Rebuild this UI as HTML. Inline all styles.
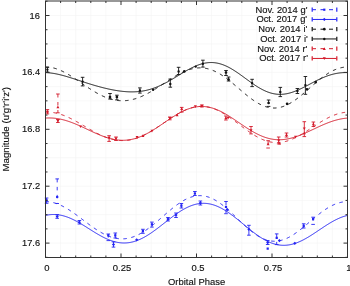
<!DOCTYPE html>
<html><head><meta charset="utf-8"><style>
html,body{margin:0;padding:0;background:#fff;}
body{width:350px;height:286px;position:relative;overflow:hidden;font-family:"Liberation Sans",sans-serif;color:#111;}
#tx{position:absolute;left:0;top:0;width:350px;height:286px;will-change:transform;}
#tx div{position:absolute;font-size:10px;line-height:12px;white-space:nowrap;-webkit-text-stroke:0.15px #111;}
#tx .yl{right:309.8px;font-size:9.8px;transform:scaleX(0.95);transform-origin:100% 50%;}
#tx .xl{top:262px;width:40px;text-align:center;font-size:9.9px;transform:scaleX(0.955);}
#tx .lg{right:42.5px;font-size:9.8px;word-spacing:0.3px;transform:scaleX(0.955);transform-origin:100% 50%;}
#tx .xt{top:276px;left:0;width:393.2px;text-align:center;font-size:9.9px;transform:scaleX(0.955);}
#tx .yt{left:0;top:0;width:120px;height:12px;text-align:center;font-size:9.7px;transform-origin:0 0;transform:translate(0px,189.2px) rotate(-90deg);}
</style></head><body>
<svg width="350" height="286" viewBox="0 0 350 286" style="position:absolute;left:0;top:0">
<path d="M60.60,1.0 V257.5 M75.70,1.0 V257.5 M90.80,1.0 V257.5 M105.90,1.0 V257.5 M121.00,1.0 V257.5 M136.10,1.0 V257.5 M151.20,1.0 V257.5 M166.30,1.0 V257.5 M181.40,1.0 V257.5 M196.50,1.0 V257.5 M211.60,1.0 V257.5 M226.70,1.0 V257.5 M241.80,1.0 V257.5 M256.90,1.0 V257.5 M272.00,1.0 V257.5 M287.10,1.0 V257.5 M302.20,1.0 V257.5 M317.30,1.0 V257.5 M332.40,1.0 V257.5 M45.5,15.50 H347.5 M45.5,29.73 H347.5 M45.5,43.95 H347.5 M45.5,58.18 H347.5 M45.5,72.40 H347.5 M45.5,86.62 H347.5 M45.5,100.85 H347.5 M45.5,115.07 H347.5 M45.5,129.30 H347.5 M45.5,143.52 H347.5 M45.5,157.75 H347.5 M45.5,171.98 H347.5 M45.5,186.20 H347.5 M45.5,200.43 H347.5 M45.5,214.65 H347.5 M45.5,228.88 H347.5 M45.5,243.10 H347.5" stroke="#f3f3f3" stroke-width="0.6" fill="none"/>
<path d="M45.5,201.62 L46.5,201.64 L47.5,201.69 L48.5,201.77 L49.5,201.89 L50.5,202.04 L51.5,202.22 L52.5,202.43 L53.5,202.67 L54.5,202.94 L55.5,203.24 L56.5,203.58 L57.5,203.94 L58.5,204.32 L59.5,204.74 L60.5,205.18 L61.5,205.65 L62.5,206.14 L63.5,206.65 L64.5,207.19 L65.5,207.75 L66.5,208.33 L67.5,208.93 L68.5,209.55 L69.5,210.18 L70.5,210.83 L71.5,211.50 L72.5,212.18 L73.5,212.88 L74.5,213.58 L75.5,214.30 L76.5,215.03 L77.5,215.76 L78.5,216.50 L79.5,217.25 L80.5,218.00 L81.5,218.75 L82.5,219.51 L83.5,220.27 L84.5,221.03 L85.5,221.78 L86.5,222.54 L87.5,223.28 L88.5,224.03 L89.5,224.76 L90.5,225.49 L91.5,226.21 L92.5,226.92 L93.5,227.62 L94.5,228.31 L95.5,228.99 L96.5,229.64 L97.5,230.29 L98.5,230.92 L99.5,231.53 L100.5,232.12 L101.5,232.69 L102.5,233.24 L103.5,233.77 L104.5,234.28 L105.5,234.76 L106.5,235.23 L107.5,235.66 L108.5,236.07 L109.5,236.46 L110.5,236.82 L111.5,237.15 L112.5,237.45 L113.5,237.73 L114.5,237.97 L115.5,238.19 L116.5,238.38 L117.5,238.53 L118.5,238.66 L119.5,238.75 L120.5,238.82 L121.5,238.85 L122.5,238.85 L123.5,238.82 L124.5,238.75 L125.5,238.66 L126.5,238.53 L127.5,238.37 L128.5,238.18 L129.5,237.96 L130.5,237.71 L131.5,237.42 L132.5,237.11 L133.5,236.76 L134.5,236.39 L135.5,235.99 L136.5,235.55 L137.5,235.09 L138.5,234.60 L139.5,234.08 L140.5,233.54 L141.5,232.97 L142.5,232.38 L143.5,231.76 L144.5,231.12 L145.5,230.45 L146.5,229.77 L147.5,229.06 L148.5,228.33 L149.5,227.59 L150.5,226.83 L151.5,226.05 L152.5,225.26 L153.5,224.45 L154.5,223.63 L155.5,222.80 L156.5,221.96 L157.5,221.11 L158.5,220.25 L159.5,219.39 L160.5,218.52 L161.5,217.65 L162.5,216.78 L163.5,215.91 L164.5,215.03 L165.5,214.16 L166.5,213.30 L167.5,212.44 L168.5,211.58 L169.5,210.74 L170.5,209.90 L171.5,209.07 L172.5,208.26 L173.5,207.46 L174.5,206.68 L175.5,205.91 L176.5,205.17 L177.5,204.44 L178.5,203.73 L179.5,203.04 L180.5,202.38 L181.5,201.74 L182.5,201.13 L183.5,200.55 L184.5,199.99 L185.5,199.46 L186.5,198.97 L187.5,198.50 L188.5,198.07 L189.5,197.67 L190.5,197.30 L191.5,196.97 L192.5,196.67 L193.5,196.41 L194.5,196.19 L195.5,196.00 L196.5,195.85 L197.5,195.74 L198.5,195.67 L199.5,195.64 L200.5,195.64 L201.5,195.69 L202.5,195.77 L203.5,195.89 L204.5,196.05 L205.5,196.25 L206.5,196.49 L207.5,196.77 L208.5,197.08 L209.5,197.44 L210.5,197.83 L211.5,198.25 L212.5,198.71 L213.5,199.21 L214.5,199.74 L215.5,200.30 L216.5,200.90 L217.5,201.53 L218.5,202.18 L219.5,202.87 L220.5,203.59 L221.5,204.33 L222.5,205.09 L223.5,205.89 L224.5,206.70 L225.5,207.54 L226.5,208.39 L227.5,209.27 L228.5,210.16 L229.5,211.06 L230.5,211.98 L231.5,212.91 L232.5,213.85 L233.5,214.80 L234.5,215.76 L235.5,216.72 L236.5,217.69 L237.5,218.65 L238.5,219.62 L239.5,220.59 L240.5,221.55 L241.5,222.50 L242.5,223.45 L243.5,224.39 L244.5,225.32 L245.5,226.23 L246.5,227.14 L247.5,228.02 L248.5,228.89 L249.5,229.74 L250.5,230.57 L251.5,231.38 L252.5,232.16 L253.5,232.92 L254.5,233.65 L255.5,234.36 L256.5,235.04 L257.5,235.68 L258.5,236.30 L259.5,236.88 L260.5,237.43 L261.5,237.95 L262.5,238.43 L263.5,238.88 L264.5,239.28 L265.5,239.66 L266.5,239.99 L267.5,240.28 L268.5,240.54 L269.5,240.76 L270.5,240.93 L271.5,241.07 L272.5,241.17 L273.5,241.23 L274.5,241.25 L275.5,241.22 L276.5,241.16 L277.5,241.06 L278.5,240.92 L279.5,240.74 L280.5,240.53 L281.5,240.27 L282.5,239.98 L283.5,239.65 L284.5,239.29 L285.5,238.89 L286.5,238.46 L287.5,238.00 L288.5,237.50 L289.5,236.98 L290.5,236.42 L291.5,235.83 L292.5,235.22 L293.5,234.58 L294.5,233.92 L295.5,233.23 L296.5,232.53 L297.5,231.80 L298.5,231.05 L299.5,230.28 L300.5,229.50 L301.5,228.71 L302.5,227.90 L303.5,227.08 L304.5,226.25 L305.5,225.41 L306.5,224.57 L307.5,223.72 L308.5,222.87 L309.5,222.01 L310.5,221.16 L311.5,220.31 L312.5,219.46 L313.5,218.61 L314.5,217.77 L315.5,216.94 L316.5,216.12 L317.5,215.31 L318.5,214.51 L319.5,213.73 L320.5,212.96 L321.5,212.20 L322.5,211.47 L323.5,210.75 L324.5,210.05 L325.5,209.38 L326.5,208.72 L327.5,208.09 L328.5,207.49 L329.5,206.91 L330.5,206.35 L331.5,205.83 L332.5,205.33 L333.5,204.86 L334.5,204.42 L335.5,204.01 L336.5,203.63 L337.5,203.29 L338.5,202.97 L339.5,202.69 L340.5,202.44 L341.5,202.22 L342.5,202.04 L343.5,201.89 L344.5,201.77 L345.5,201.69 L346.5,201.64 L347.5,201.62" stroke="#2424f4" stroke-width="1.0" fill="none" stroke-dasharray="3.5,4.5"/>
<path d="M45.5,215.42 L46.5,215.21 L47.5,215.02 L48.5,214.87 L49.5,214.73 L50.5,214.63 L51.5,214.56 L52.5,214.51 L53.5,214.50 L54.5,214.51 L55.5,214.55 L56.5,214.62 L57.5,214.71 L58.5,214.84 L59.5,214.99 L60.5,215.17 L61.5,215.37 L62.5,215.60 L63.5,215.86 L64.5,216.15 L65.5,216.45 L66.5,216.79 L67.5,217.14 L68.5,217.52 L69.5,217.92 L70.5,218.34 L71.5,218.79 L72.5,219.25 L73.5,219.73 L74.5,220.23 L75.5,220.74 L76.5,221.27 L77.5,221.82 L78.5,222.38 L79.5,222.95 L80.5,223.53 L81.5,224.12 L82.5,224.72 L83.5,225.33 L84.5,225.95 L85.5,226.57 L86.5,227.20 L87.5,227.83 L88.5,228.46 L89.5,229.09 L90.5,229.72 L91.5,230.35 L92.5,230.98 L93.5,231.60 L94.5,232.22 L95.5,232.83 L96.5,233.43 L97.5,234.02 L98.5,234.60 L99.5,235.17 L100.5,235.73 L101.5,236.28 L102.5,236.81 L103.5,237.32 L104.5,237.82 L105.5,238.30 L106.5,238.76 L107.5,239.20 L108.5,239.62 L109.5,240.02 L110.5,240.40 L111.5,240.75 L112.5,241.08 L113.5,241.39 L114.5,241.67 L115.5,241.93 L116.5,242.15 L117.5,242.36 L118.5,242.53 L119.5,242.68 L120.5,242.79 L121.5,242.88 L122.5,242.95 L123.5,242.98 L124.5,242.98 L125.5,242.95 L126.5,242.90 L127.5,242.81 L128.5,242.70 L129.5,242.55 L130.5,242.38 L131.5,242.17 L132.5,241.94 L133.5,241.68 L134.5,241.39 L135.5,241.08 L136.5,240.73 L137.5,240.36 L138.5,239.96 L139.5,239.54 L140.5,239.09 L141.5,238.62 L142.5,238.12 L143.5,237.60 L144.5,237.05 L145.5,236.49 L146.5,235.90 L147.5,235.29 L148.5,234.66 L149.5,234.02 L150.5,233.36 L151.5,232.68 L152.5,231.99 L153.5,231.28 L154.5,230.56 L155.5,229.83 L156.5,229.09 L157.5,228.33 L158.5,227.57 L159.5,226.80 L160.5,226.03 L161.5,225.25 L162.5,224.47 L163.5,223.68 L164.5,222.90 L165.5,222.11 L166.5,221.33 L167.5,220.54 L168.5,219.77 L169.5,218.99 L170.5,218.23 L171.5,217.47 L172.5,216.71 L173.5,215.97 L174.5,215.24 L175.5,214.53 L176.5,213.82 L177.5,213.13 L178.5,212.46 L179.5,211.80 L180.5,211.16 L181.5,210.54 L182.5,209.94 L183.5,209.36 L184.5,208.80 L185.5,208.27 L186.5,207.75 L187.5,207.27 L188.5,206.81 L189.5,206.37 L190.5,205.96 L191.5,205.58 L192.5,205.22 L193.5,204.90 L194.5,204.60 L195.5,204.33 L196.5,204.10 L197.5,203.89 L198.5,203.72 L199.5,203.57 L200.5,203.46 L201.5,203.38 L202.5,203.33 L203.5,203.31 L204.5,203.33 L205.5,203.38 L206.5,203.46 L207.5,203.57 L208.5,203.71 L209.5,203.89 L210.5,204.09 L211.5,204.33 L212.5,204.60 L213.5,204.90 L214.5,205.22 L215.5,205.58 L216.5,205.97 L217.5,206.38 L218.5,206.83 L219.5,207.30 L220.5,207.79 L221.5,208.31 L222.5,208.86 L223.5,209.43 L224.5,210.03 L225.5,210.64 L226.5,211.28 L227.5,211.94 L228.5,212.61 L229.5,213.31 L230.5,214.02 L231.5,214.75 L232.5,215.49 L233.5,216.25 L234.5,217.02 L235.5,217.80 L236.5,218.59 L237.5,219.39 L238.5,220.20 L239.5,221.01 L240.5,221.83 L241.5,222.65 L242.5,223.48 L243.5,224.30 L244.5,225.13 L245.5,225.95 L246.5,226.78 L247.5,227.59 L248.5,228.41 L249.5,229.21 L250.5,230.01 L251.5,230.80 L252.5,231.58 L253.5,232.35 L254.5,233.11 L255.5,233.85 L256.5,234.58 L257.5,235.29 L258.5,235.98 L259.5,236.66 L260.5,237.31 L261.5,237.95 L262.5,238.56 L263.5,239.16 L264.5,239.73 L265.5,240.27 L266.5,240.79 L267.5,241.29 L268.5,241.76 L269.5,242.20 L270.5,242.62 L271.5,243.00 L272.5,243.36 L273.5,243.69 L274.5,243.99 L275.5,244.26 L276.5,244.50 L277.5,244.71 L278.5,244.89 L279.5,245.03 L280.5,245.15 L281.5,245.24 L282.5,245.29 L283.5,245.31 L284.5,245.30 L285.5,245.26 L286.5,245.19 L287.5,245.09 L288.5,244.96 L289.5,244.80 L290.5,244.61 L291.5,244.39 L292.5,244.14 L293.5,243.87 L294.5,243.57 L295.5,243.24 L296.5,242.88 L297.5,242.50 L298.5,242.10 L299.5,241.67 L300.5,241.22 L301.5,240.75 L302.5,240.26 L303.5,239.75 L304.5,239.21 L305.5,238.67 L306.5,238.10 L307.5,237.52 L308.5,236.93 L309.5,236.32 L310.5,235.70 L311.5,235.07 L312.5,234.43 L313.5,233.78 L314.5,233.12 L315.5,232.46 L316.5,231.79 L317.5,231.12 L318.5,230.45 L319.5,229.78 L320.5,229.11 L321.5,228.44 L322.5,227.77 L323.5,227.11 L324.5,226.45 L325.5,225.80 L326.5,225.16 L327.5,224.53 L328.5,223.91 L329.5,223.29 L330.5,222.70 L331.5,222.11 L332.5,221.54 L333.5,220.99 L334.5,220.45 L335.5,219.93 L336.5,219.44 L337.5,218.96 L338.5,218.50 L339.5,218.06 L340.5,217.64 L341.5,217.25 L342.5,216.88 L343.5,216.54 L344.5,216.22 L345.5,215.93 L346.5,215.66 L347.5,215.42" stroke="#2424f4" stroke-width="1.0" fill="none"/>
<path d="M45.5,112.16 L46.5,112.12 L47.5,112.11 L48.5,112.13 L49.5,112.17 L50.5,112.24 L51.5,112.33 L52.5,112.45 L53.5,112.60 L54.5,112.77 L55.5,112.96 L56.5,113.18 L57.5,113.42 L58.5,113.68 L59.5,113.97 L60.5,114.28 L61.5,114.61 L62.5,114.96 L63.5,115.33 L64.5,115.71 L65.5,116.12 L66.5,116.55 L67.5,116.99 L68.5,117.45 L69.5,117.92 L70.5,118.41 L71.5,118.91 L72.5,119.42 L73.5,119.94 L74.5,120.48 L75.5,121.02 L76.5,121.58 L77.5,122.14 L78.5,122.71 L79.5,123.28 L80.5,123.86 L81.5,124.44 L82.5,125.03 L83.5,125.62 L84.5,126.21 L85.5,126.80 L86.5,127.38 L87.5,127.97 L88.5,128.55 L89.5,129.13 L90.5,129.70 L91.5,130.27 L92.5,130.83 L93.5,131.38 L94.5,131.93 L95.5,132.46 L96.5,132.99 L97.5,133.50 L98.5,134.00 L99.5,134.49 L100.5,134.96 L101.5,135.42 L102.5,135.86 L103.5,136.29 L104.5,136.70 L105.5,137.10 L106.5,137.47 L107.5,137.83 L108.5,138.16 L109.5,138.48 L110.5,138.78 L111.5,139.05 L112.5,139.30 L113.5,139.53 L114.5,139.74 L115.5,139.93 L116.5,140.09 L117.5,140.23 L118.5,140.35 L119.5,140.44 L120.5,140.50 L121.5,140.55 L122.5,140.56 L123.5,140.56 L124.5,140.53 L125.5,140.47 L126.5,140.39 L127.5,140.28 L128.5,140.15 L129.5,139.99 L130.5,139.81 L131.5,139.61 L132.5,139.38 L133.5,139.13 L134.5,138.85 L135.5,138.55 L136.5,138.23 L137.5,137.88 L138.5,137.52 L139.5,137.13 L140.5,136.72 L141.5,136.29 L142.5,135.84 L143.5,135.37 L144.5,134.88 L145.5,134.37 L146.5,133.85 L147.5,133.31 L148.5,132.75 L149.5,132.18 L150.5,131.60 L151.5,131.00 L152.5,130.39 L153.5,129.77 L154.5,129.13 L155.5,128.49 L156.5,127.84 L157.5,127.18 L158.5,126.52 L159.5,125.84 L160.5,125.17 L161.5,124.49 L162.5,123.81 L163.5,123.13 L164.5,122.44 L165.5,121.76 L166.5,121.08 L167.5,120.40 L168.5,119.73 L169.5,119.06 L170.5,118.40 L171.5,117.74 L172.5,117.10 L173.5,116.46 L174.5,115.83 L175.5,115.22 L176.5,114.62 L177.5,114.03 L178.5,113.46 L179.5,112.90 L180.5,112.36 L181.5,111.84 L182.5,111.34 L183.5,110.86 L184.5,110.40 L185.5,109.96 L186.5,109.54 L187.5,109.14 L188.5,108.77 L189.5,108.42 L190.5,108.10 L191.5,107.81 L192.5,107.54 L193.5,107.30 L194.5,107.08 L195.5,106.90 L196.5,106.74 L197.5,106.61 L198.5,106.51 L199.5,106.44 L200.5,106.40 L201.5,106.39 L202.5,106.41 L203.5,106.46 L204.5,106.54 L205.5,106.66 L206.5,106.80 L207.5,106.97 L208.5,107.17 L209.5,107.40 L210.5,107.66 L211.5,107.94 L212.5,108.26 L213.5,108.60 L214.5,108.97 L215.5,109.37 L216.5,109.80 L217.5,110.25 L218.5,110.72 L219.5,111.22 L220.5,111.74 L221.5,112.29 L222.5,112.85 L223.5,113.44 L224.5,114.04 L225.5,114.67 L226.5,115.31 L227.5,115.97 L228.5,116.64 L229.5,117.33 L230.5,118.03 L231.5,118.74 L232.5,119.46 L233.5,120.19 L234.5,120.93 L235.5,121.68 L236.5,122.43 L237.5,123.18 L238.5,123.94 L239.5,124.70 L240.5,125.46 L241.5,126.21 L242.5,126.97 L243.5,127.72 L244.5,128.46 L245.5,129.20 L246.5,129.93 L247.5,130.65 L248.5,131.36 L249.5,132.05 L250.5,132.74 L251.5,133.41 L252.5,134.06 L253.5,134.69 L254.5,135.31 L255.5,135.91 L256.5,136.49 L257.5,137.05 L258.5,137.58 L259.5,138.10 L260.5,138.58 L261.5,139.05 L262.5,139.49 L263.5,139.90 L264.5,140.28 L265.5,140.64 L266.5,140.97 L267.5,141.27 L268.5,141.54 L269.5,141.78 L270.5,141.99 L271.5,142.17 L272.5,142.32 L273.5,142.44 L274.5,142.53 L275.5,142.58 L276.5,142.61 L277.5,142.61 L278.5,142.57 L279.5,142.50 L280.5,142.41 L281.5,142.28 L282.5,142.12 L283.5,141.94 L284.5,141.72 L285.5,141.48 L286.5,141.21 L287.5,140.91 L288.5,140.59 L289.5,140.24 L290.5,139.86 L291.5,139.46 L292.5,139.04 L293.5,138.59 L294.5,138.13 L295.5,137.64 L296.5,137.13 L297.5,136.60 L298.5,136.06 L299.5,135.50 L300.5,134.93 L301.5,134.34 L302.5,133.74 L303.5,133.12 L304.5,132.50 L305.5,131.87 L306.5,131.23 L307.5,130.58 L308.5,129.93 L309.5,129.27 L310.5,128.61 L311.5,127.95 L312.5,127.29 L313.5,126.63 L314.5,125.97 L315.5,125.31 L316.5,124.66 L317.5,124.02 L318.5,123.38 L319.5,122.75 L320.5,122.13 L321.5,121.51 L322.5,120.92 L323.5,120.33 L324.5,119.76 L325.5,119.20 L326.5,118.65 L327.5,118.13 L328.5,117.62 L329.5,117.13 L330.5,116.66 L331.5,116.20 L332.5,115.77 L333.5,115.36 L334.5,114.98 L335.5,114.61 L336.5,114.27 L337.5,113.95 L338.5,113.66 L339.5,113.39 L340.5,113.14 L341.5,112.92 L342.5,112.73 L343.5,112.56 L344.5,112.42 L345.5,112.31 L346.5,112.22 L347.5,112.16" stroke="#d41a2a" stroke-width="1.0" fill="none" stroke-dasharray="3.5,4.5"/>
<path d="M45.5,118.09 L46.5,118.03 L47.5,117.98 L48.5,117.96 L49.5,117.96 L50.5,117.97 L51.5,118.01 L52.5,118.06 L53.5,118.14 L54.5,118.23 L55.5,118.34 L56.5,118.47 L57.5,118.61 L58.5,118.78 L59.5,118.96 L60.5,119.16 L61.5,119.38 L62.5,119.62 L63.5,119.87 L64.5,120.14 L65.5,120.42 L66.5,120.72 L67.5,121.03 L68.5,121.36 L69.5,121.70 L70.5,122.05 L71.5,122.42 L72.5,122.80 L73.5,123.19 L74.5,123.59 L75.5,124.00 L76.5,124.41 L77.5,124.84 L78.5,125.28 L79.5,125.72 L80.5,126.17 L81.5,126.63 L82.5,127.09 L83.5,127.55 L84.5,128.02 L85.5,128.49 L86.5,128.96 L87.5,129.43 L88.5,129.91 L89.5,130.38 L90.5,130.85 L91.5,131.32 L92.5,131.78 L93.5,132.24 L94.5,132.70 L95.5,133.15 L96.5,133.59 L97.5,134.02 L98.5,134.45 L99.5,134.87 L100.5,135.28 L101.5,135.67 L102.5,136.06 L103.5,136.43 L104.5,136.80 L105.5,137.14 L106.5,137.47 L107.5,137.79 L108.5,138.09 L109.5,138.38 L110.5,138.64 L111.5,138.89 L112.5,139.12 L113.5,139.34 L114.5,139.53 L115.5,139.70 L116.5,139.85 L117.5,139.98 L118.5,140.09 L119.5,140.18 L120.5,140.24 L121.5,140.29 L122.5,140.30 L123.5,140.30 L124.5,140.27 L125.5,140.22 L126.5,140.15 L127.5,140.05 L128.5,139.93 L129.5,139.78 L130.5,139.61 L131.5,139.42 L132.5,139.20 L133.5,138.96 L134.5,138.70 L135.5,138.41 L136.5,138.10 L137.5,137.77 L138.5,137.41 L139.5,137.04 L140.5,136.64 L141.5,136.22 L142.5,135.78 L143.5,135.32 L144.5,134.85 L145.5,134.35 L146.5,133.84 L147.5,133.31 L148.5,132.76 L149.5,132.20 L150.5,131.62 L151.5,131.03 L152.5,130.42 L153.5,129.81 L154.5,129.18 L155.5,128.54 L156.5,127.90 L157.5,127.24 L158.5,126.58 L159.5,125.91 L160.5,125.24 L161.5,124.56 L162.5,123.88 L163.5,123.20 L164.5,122.52 L165.5,121.84 L166.5,121.16 L167.5,120.48 L168.5,119.81 L169.5,119.14 L170.5,118.48 L171.5,117.82 L172.5,117.18 L173.5,116.54 L174.5,115.92 L175.5,115.30 L176.5,114.70 L177.5,114.12 L178.5,113.55 L179.5,112.99 L180.5,112.45 L181.5,111.93 L182.5,111.43 L183.5,110.95 L184.5,110.49 L185.5,110.05 L186.5,109.63 L187.5,109.23 L188.5,108.86 L189.5,108.52 L190.5,108.20 L191.5,107.90 L192.5,107.63 L193.5,107.39 L194.5,107.17 L195.5,106.98 L196.5,106.82 L197.5,106.69 L198.5,106.58 L199.5,106.51 L200.5,106.46 L201.5,106.44 L202.5,106.45 L203.5,106.49 L204.5,106.56 L205.5,106.66 L206.5,106.78 L207.5,106.94 L208.5,107.12 L209.5,107.33 L210.5,107.57 L211.5,107.83 L212.5,108.12 L213.5,108.43 L214.5,108.78 L215.5,109.14 L216.5,109.53 L217.5,109.94 L218.5,110.38 L219.5,110.83 L220.5,111.31 L221.5,111.81 L222.5,112.33 L223.5,112.86 L224.5,113.42 L225.5,113.98 L226.5,114.57 L227.5,115.17 L228.5,115.78 L229.5,116.40 L230.5,117.04 L231.5,117.68 L232.5,118.33 L233.5,118.99 L234.5,119.66 L235.5,120.33 L236.5,121.01 L237.5,121.69 L238.5,122.37 L239.5,123.05 L240.5,123.73 L241.5,124.41 L242.5,125.09 L243.5,125.76 L244.5,126.42 L245.5,127.08 L246.5,127.74 L247.5,128.38 L248.5,129.02 L249.5,129.64 L250.5,130.25 L251.5,130.85 L252.5,131.44 L253.5,132.01 L254.5,132.57 L255.5,133.11 L256.5,133.64 L257.5,134.14 L258.5,134.63 L259.5,135.10 L260.5,135.55 L261.5,135.98 L262.5,136.38 L263.5,136.77 L264.5,137.13 L265.5,137.47 L266.5,137.79 L267.5,138.09 L268.5,138.36 L269.5,138.61 L270.5,138.83 L271.5,139.03 L272.5,139.20 L273.5,139.36 L274.5,139.48 L275.5,139.58 L276.5,139.66 L277.5,139.71 L278.5,139.74 L279.5,139.75 L280.5,139.73 L281.5,139.68 L282.5,139.62 L283.5,139.53 L284.5,139.42 L285.5,139.28 L286.5,139.13 L287.5,138.95 L288.5,138.76 L289.5,138.54 L290.5,138.30 L291.5,138.05 L292.5,137.77 L293.5,137.48 L294.5,137.18 L295.5,136.85 L296.5,136.51 L297.5,136.16 L298.5,135.79 L299.5,135.41 L300.5,135.02 L301.5,134.61 L302.5,134.20 L303.5,133.77 L304.5,133.34 L305.5,132.90 L306.5,132.45 L307.5,132.00 L308.5,131.54 L309.5,131.07 L310.5,130.60 L311.5,130.13 L312.5,129.66 L313.5,129.19 L314.5,128.72 L315.5,128.25 L316.5,127.78 L317.5,127.31 L318.5,126.85 L319.5,126.39 L320.5,125.93 L321.5,125.49 L322.5,125.04 L323.5,124.61 L324.5,124.18 L325.5,123.77 L326.5,123.36 L327.5,122.97 L328.5,122.58 L329.5,122.21 L330.5,121.85 L331.5,121.50 L332.5,121.16 L333.5,120.84 L334.5,120.54 L335.5,120.25 L336.5,119.97 L337.5,119.71 L338.5,119.47 L339.5,119.25 L340.5,119.04 L341.5,118.85 L342.5,118.67 L343.5,118.52 L344.5,118.38 L345.5,118.27 L346.5,118.17 L347.5,118.09" stroke="#d41a2a" stroke-width="1.0" fill="none"/>
<path d="M45.5,66.98 L46.5,66.99 L47.5,67.04 L48.5,67.11 L49.5,67.22 L50.5,67.36 L51.5,67.53 L52.5,67.74 L53.5,67.97 L54.5,68.23 L55.5,68.52 L56.5,68.84 L57.5,69.19 L58.5,69.57 L59.5,69.97 L60.5,70.39 L61.5,70.84 L62.5,71.31 L63.5,71.80 L64.5,72.32 L65.5,72.85 L66.5,73.40 L67.5,73.97 L68.5,74.56 L69.5,75.16 L70.5,75.77 L71.5,76.40 L72.5,77.04 L73.5,77.69 L74.5,78.35 L75.5,79.01 L76.5,79.69 L77.5,80.37 L78.5,81.05 L79.5,81.74 L80.5,82.43 L81.5,83.12 L82.5,83.81 L83.5,84.50 L84.5,85.18 L85.5,85.86 L86.5,86.54 L87.5,87.21 L88.5,87.88 L89.5,88.54 L90.5,89.18 L91.5,89.82 L92.5,90.45 L93.5,91.07 L94.5,91.67 L95.5,92.26 L96.5,92.83 L97.5,93.39 L98.5,93.94 L99.5,94.47 L100.5,94.98 L101.5,95.47 L102.5,95.94 L103.5,96.40 L104.5,96.83 L105.5,97.24 L106.5,97.64 L107.5,98.01 L108.5,98.36 L109.5,98.68 L110.5,98.99 L111.5,99.27 L112.5,99.52 L113.5,99.76 L114.5,99.97 L115.5,100.15 L116.5,100.31 L117.5,100.45 L118.5,100.56 L119.5,100.64 L120.5,100.71 L121.5,100.74 L122.5,100.75 L123.5,100.74 L124.5,100.70 L125.5,100.64 L126.5,100.55 L127.5,100.44 L128.5,100.30 L129.5,100.14 L130.5,99.95 L131.5,99.74 L132.5,99.51 L133.5,99.26 L134.5,98.98 L135.5,98.68 L136.5,98.36 L137.5,98.02 L138.5,97.65 L139.5,97.27 L140.5,96.86 L141.5,96.44 L142.5,96.00 L143.5,95.54 L144.5,95.06 L145.5,94.56 L146.5,94.05 L147.5,93.53 L148.5,92.98 L149.5,92.43 L150.5,91.86 L151.5,91.28 L152.5,90.69 L153.5,90.08 L154.5,89.47 L155.5,88.85 L156.5,88.22 L157.5,87.58 L158.5,86.94 L159.5,86.29 L160.5,85.64 L161.5,84.98 L162.5,84.32 L163.5,83.66 L164.5,83.00 L165.5,82.35 L166.5,81.69 L167.5,81.03 L168.5,80.38 L169.5,79.74 L170.5,79.10 L171.5,78.47 L172.5,77.85 L173.5,77.23 L174.5,76.63 L175.5,76.04 L176.5,75.46 L177.5,74.90 L178.5,74.35 L179.5,73.81 L180.5,73.29 L181.5,72.79 L182.5,72.31 L183.5,71.85 L184.5,71.41 L185.5,70.99 L186.5,70.60 L187.5,70.22 L188.5,69.87 L189.5,69.55 L190.5,69.25 L191.5,68.98 L192.5,68.74 L193.5,68.52 L194.5,68.34 L195.5,68.18 L196.5,68.05 L197.5,67.95 L198.5,67.89 L199.5,67.85 L200.5,67.84 L201.5,67.87 L202.5,67.93 L203.5,68.02 L204.5,68.14 L205.5,68.30 L206.5,68.48 L207.5,68.70 L208.5,68.95 L209.5,69.24 L210.5,69.55 L211.5,69.90 L212.5,70.27 L213.5,70.68 L214.5,71.12 L215.5,71.58 L216.5,72.08 L217.5,72.60 L218.5,73.15 L219.5,73.73 L220.5,74.33 L221.5,74.96 L222.5,75.61 L223.5,76.28 L224.5,76.98 L225.5,77.69 L226.5,78.43 L227.5,79.18 L228.5,79.95 L229.5,80.74 L230.5,81.54 L231.5,82.35 L232.5,83.17 L233.5,84.01 L234.5,84.85 L235.5,85.70 L236.5,86.55 L237.5,87.41 L238.5,88.27 L239.5,89.13 L240.5,89.99 L241.5,90.85 L242.5,91.70 L243.5,92.55 L244.5,93.39 L245.5,94.22 L246.5,95.04 L247.5,95.84 L248.5,96.64 L249.5,97.41 L250.5,98.17 L251.5,98.92 L252.5,99.64 L253.5,100.34 L254.5,101.02 L255.5,101.67 L256.5,102.30 L257.5,102.90 L258.5,103.47 L259.5,104.01 L260.5,104.52 L261.5,105.01 L262.5,105.45 L263.5,105.87 L264.5,106.25 L265.5,106.60 L266.5,106.91 L267.5,107.18 L268.5,107.42 L269.5,107.62 L270.5,107.78 L271.5,107.90 L272.5,107.99 L273.5,108.03 L274.5,108.04 L275.5,108.01 L276.5,107.93 L277.5,107.82 L278.5,107.67 L279.5,107.49 L280.5,107.26 L281.5,107.00 L282.5,106.70 L283.5,106.36 L284.5,105.99 L285.5,105.58 L286.5,105.14 L287.5,104.66 L288.5,104.15 L289.5,103.61 L290.5,103.04 L291.5,102.44 L292.5,101.81 L293.5,101.16 L294.5,100.48 L295.5,99.77 L296.5,99.05 L297.5,98.30 L298.5,97.53 L299.5,96.74 L300.5,95.93 L301.5,95.11 L302.5,94.28 L303.5,93.43 L304.5,92.58 L305.5,91.71 L306.5,90.84 L307.5,89.96 L308.5,89.08 L309.5,88.19 L310.5,87.31 L311.5,86.43 L312.5,85.55 L313.5,84.67 L314.5,83.80 L315.5,82.94 L316.5,82.09 L317.5,81.24 L318.5,80.41 L319.5,79.60 L320.5,78.80 L321.5,78.02 L322.5,77.25 L323.5,76.51 L324.5,75.78 L325.5,75.08 L326.5,74.40 L327.5,73.75 L328.5,73.12 L329.5,72.52 L330.5,71.94 L331.5,71.39 L332.5,70.88 L333.5,70.39 L334.5,69.93 L335.5,69.51 L336.5,69.11 L337.5,68.75 L338.5,68.42 L339.5,68.13 L340.5,67.87 L341.5,67.64 L342.5,67.44 L343.5,67.28 L344.5,67.16 L345.5,67.07 L346.5,67.01 L347.5,66.98" stroke="#111111" stroke-width="1.0" fill="none" stroke-dasharray="3.5,4.5"/>
<path d="M45.5,72.60 L46.5,72.64 L47.5,72.70 L48.5,72.78 L49.5,72.87 L50.5,72.98 L51.5,73.11 L52.5,73.25 L53.5,73.40 L54.5,73.57 L55.5,73.76 L56.5,73.95 L57.5,74.16 L58.5,74.38 L59.5,74.61 L60.5,74.86 L61.5,75.11 L62.5,75.37 L63.5,75.64 L64.5,75.92 L65.5,76.20 L66.5,76.49 L67.5,76.79 L68.5,77.09 L69.5,77.40 L70.5,77.71 L71.5,78.03 L72.5,78.35 L73.5,78.67 L74.5,79.00 L75.5,79.32 L76.5,79.65 L77.5,79.98 L78.5,80.31 L79.5,80.64 L80.5,80.97 L81.5,81.30 L82.5,81.63 L83.5,81.95 L84.5,82.28 L85.5,82.60 L86.5,82.92 L87.5,83.24 L88.5,83.55 L89.5,83.87 L90.5,84.17 L91.5,84.48 L92.5,84.78 L93.5,85.08 L94.5,85.38 L95.5,85.67 L96.5,85.95 L97.5,86.23 L98.5,86.51 L99.5,86.78 L100.5,87.05 L101.5,87.31 L102.5,87.57 L103.5,87.82 L104.5,88.07 L105.5,88.31 L106.5,88.54 L107.5,88.77 L108.5,89.00 L109.5,89.21 L110.5,89.42 L111.5,89.63 L112.5,89.82 L113.5,90.01 L114.5,90.19 L115.5,90.37 L116.5,90.53 L117.5,90.69 L118.5,90.84 L119.5,90.98 L120.5,91.11 L121.5,91.23 L122.5,91.35 L123.5,91.45 L124.5,91.54 L125.5,91.62 L126.5,91.70 L127.5,91.75 L128.5,91.80 L129.5,91.84 L130.5,91.86 L131.5,91.87 L132.5,91.87 L133.5,91.85 L134.5,91.82 L135.5,91.78 L136.5,91.72 L137.5,91.65 L138.5,91.56 L139.5,91.45 L140.5,91.33 L141.5,91.20 L142.5,91.05 L143.5,90.88 L144.5,90.69 L145.5,90.49 L146.5,90.27 L147.5,90.04 L148.5,89.78 L149.5,89.51 L150.5,89.23 L151.5,88.92 L152.5,88.60 L153.5,88.26 L154.5,87.91 L155.5,87.53 L156.5,87.14 L157.5,86.74 L158.5,86.32 L159.5,85.88 L160.5,85.43 L161.5,84.96 L162.5,84.48 L163.5,83.98 L164.5,83.47 L165.5,82.95 L166.5,82.42 L167.5,81.88 L168.5,81.32 L169.5,80.76 L170.5,80.18 L171.5,79.60 L172.5,79.02 L173.5,78.42 L174.5,77.82 L175.5,77.22 L176.5,76.61 L177.5,76.00 L178.5,75.40 L179.5,74.79 L180.5,74.18 L181.5,73.58 L182.5,72.98 L183.5,72.38 L184.5,71.79 L185.5,71.21 L186.5,70.64 L187.5,70.08 L188.5,69.53 L189.5,68.99 L190.5,68.46 L191.5,67.96 L192.5,67.46 L193.5,66.99 L194.5,66.53 L195.5,66.09 L196.5,65.67 L197.5,65.28 L198.5,64.91 L199.5,64.56 L200.5,64.24 L201.5,63.94 L202.5,63.67 L203.5,63.42 L204.5,63.21 L205.5,63.02 L206.5,62.86 L207.5,62.74 L208.5,62.64 L209.5,62.57 L210.5,62.54 L211.5,62.53 L212.5,62.56 L213.5,62.62 L214.5,62.71 L215.5,62.84 L216.5,62.99 L217.5,63.18 L218.5,63.40 L219.5,63.65 L220.5,63.93 L221.5,64.24 L222.5,64.58 L223.5,64.95 L224.5,65.35 L225.5,65.78 L226.5,66.23 L227.5,66.71 L228.5,67.21 L229.5,67.74 L230.5,68.29 L231.5,68.87 L232.5,69.46 L233.5,70.08 L234.5,70.71 L235.5,71.36 L236.5,72.02 L237.5,72.70 L238.5,73.39 L239.5,74.09 L240.5,74.80 L241.5,75.52 L242.5,76.24 L243.5,76.97 L244.5,77.71 L245.5,78.44 L246.5,79.17 L247.5,79.91 L248.5,80.64 L249.5,81.36 L250.5,82.08 L251.5,82.79 L252.5,83.49 L253.5,84.18 L254.5,84.86 L255.5,85.52 L256.5,86.17 L257.5,86.80 L258.5,87.41 L259.5,88.00 L260.5,88.57 L261.5,89.12 L262.5,89.65 L263.5,90.15 L264.5,90.63 L265.5,91.09 L266.5,91.51 L267.5,91.91 L268.5,92.28 L269.5,92.62 L270.5,92.93 L271.5,93.21 L272.5,93.46 L273.5,93.68 L274.5,93.87 L275.5,94.03 L276.5,94.16 L277.5,94.26 L278.5,94.32 L279.5,94.35 L280.5,94.36 L281.5,94.33 L282.5,94.27 L283.5,94.19 L284.5,94.07 L285.5,93.92 L286.5,93.75 L287.5,93.55 L288.5,93.32 L289.5,93.07 L290.5,92.79 L291.5,92.49 L292.5,92.17 L293.5,91.82 L294.5,91.45 L295.5,91.07 L296.5,90.66 L297.5,90.24 L298.5,89.80 L299.5,89.35 L300.5,88.88 L301.5,88.41 L302.5,87.92 L303.5,87.42 L304.5,86.91 L305.5,86.40 L306.5,85.88 L307.5,85.35 L308.5,84.83 L309.5,84.30 L310.5,83.77 L311.5,83.24 L312.5,82.72 L313.5,82.19 L314.5,81.68 L315.5,81.17 L316.5,80.66 L317.5,80.16 L318.5,79.68 L319.5,79.20 L320.5,78.73 L321.5,78.28 L322.5,77.84 L323.5,77.41 L324.5,77.00 L325.5,76.60 L326.5,76.22 L327.5,75.86 L328.5,75.51 L329.5,75.18 L330.5,74.87 L331.5,74.58 L332.5,74.31 L333.5,74.05 L334.5,73.82 L335.5,73.61 L336.5,73.41 L337.5,73.24 L338.5,73.09 L339.5,72.95 L340.5,72.84 L341.5,72.75 L342.5,72.67 L343.5,72.62 L344.5,72.59 L345.5,72.57 L346.5,72.58 L347.5,72.60" stroke="#111111" stroke-width="1.0" fill="none"/>
<path d="M47.4,67.3 V72.1 M45.6,67.3 h3.6 M45.6,72.1 h3.6 M82.6,77.3 V85.9 M80.8,77.3 h3.6 M80.8,85.9 h3.6 M139.9,87.9 V93.1 M138.1,87.9 h3.6 M138.1,93.1 h3.6 M170.3,79.0 V87.2 M168.5,79.0 h3.6 M168.5,87.2 h3.6 M178.6,67.3 V74.5 M176.8,67.3 h3.6 M176.8,74.5 h3.6 M202.9,60.2 V67.1 M201.1,60.2 h3.6 M201.1,67.1 h3.6 M252.1,79.3 V86.6 M250.3,79.3 h3.6 M250.3,86.6 h3.6 M280.3,87.4 V96.6 M278.5,87.4 h3.6 M278.5,96.6 h3.6 M297.4,88.5 V93.5 M295.6,88.5 h3.6 M295.6,93.5 h3.6 M305.4,76.5 V94.3 M303.6,76.5 h3.6 M303.6,94.3 h3.6 M110.0,93.5 V99.0 M108.2,93.5 h3.6 M108.2,99.0 h3.6 M116.9,95.2 V99.9 M115.1,95.2 h3.6 M115.1,99.9 h3.6 M226.0,70.5 V75.5 M224.2,70.5 h3.6 M224.2,75.5 h3.6 M228.6,77.0 V81.0 M226.8,77.0 h3.6 M226.8,81.0 h3.6 M266.8,100.0 h3.6 M266.8,106.4 h3.6" stroke="#111111" stroke-width="0.9" fill="none"/>
<path d="M268.6,100.0 V106.4" stroke="#111111" stroke-width="0.9" fill="none" stroke-dasharray="3.5,4.5"/>
<path d="M46.20,69.60 a1.20,1.20 0 1,0 2.40,0 a1.20,1.20 0 1,0 -2.40,0 z M81.40,81.60 a1.20,1.20 0 1,0 2.40,0 a1.20,1.20 0 1,0 -2.40,0 z M138.70,90.40 a1.20,1.20 0 1,0 2.40,0 a1.20,1.20 0 1,0 -2.40,0 z M151.90,89.70 a1.20,1.20 0 1,0 2.40,0 a1.20,1.20 0 1,0 -2.40,0 z M169.10,84.00 a1.20,1.20 0 1,0 2.40,0 a1.20,1.20 0 1,0 -2.40,0 z M177.40,71.40 a1.20,1.20 0 1,0 2.40,0 a1.20,1.20 0 1,0 -2.40,0 z M182.95,71.40 a1.35,1.35 0 1,0 2.70,0 a1.35,1.35 0 1,0 -2.70,0 z M194.50,66.60 a1.20,1.20 0 1,0 2.40,0 a1.20,1.20 0 1,0 -2.40,0 z M201.70,63.70 a1.20,1.20 0 1,0 2.40,0 a1.20,1.20 0 1,0 -2.40,0 z M250.90,83.10 a1.20,1.20 0 1,0 2.40,0 a1.20,1.20 0 1,0 -2.40,0 z M279.10,92.00 a1.20,1.20 0 1,0 2.40,0 a1.20,1.20 0 1,0 -2.40,0 z M296.20,90.90 a1.20,1.20 0 1,0 2.40,0 a1.20,1.20 0 1,0 -2.40,0 z M304.20,85.10 a1.20,1.20 0 1,0 2.40,0 a1.20,1.20 0 1,0 -2.40,0 z M314.35,82.20 a1.35,1.35 0 1,0 2.70,0 a1.35,1.35 0 1,0 -2.70,0 z M108.65,97.00 a1.35,1.35 0 1,0 2.70,0 a1.35,1.35 0 1,0 -2.70,0 z M115.55,97.00 a1.35,1.35 0 1,0 2.70,0 a1.35,1.35 0 1,0 -2.70,0 z M224.65,72.50 a1.35,1.35 0 1,0 2.70,0 a1.35,1.35 0 1,0 -2.70,0 z M227.25,79.50 a1.35,1.35 0 1,0 2.70,0 a1.35,1.35 0 1,0 -2.70,0 z M267.25,103.00 a1.35,1.35 0 1,0 2.70,0 a1.35,1.35 0 1,0 -2.70,0 z M285.75,103.80 a1.35,1.35 0 1,0 2.70,0 a1.35,1.35 0 1,0 -2.70,0 z M305.65,89.30 a1.35,1.35 0 1,0 2.70,0 a1.35,1.35 0 1,0 -2.70,0 z" fill="#111111"/>
<path d="M47.4,109.6 V113.9 M45.6,109.6 h3.6 M45.6,113.9 h3.6 M56.1,94.0 h3.6 M56.1,112.8 h3.6 M57.9,119.5 V122.5 M56.1,119.5 h3.6 M56.1,122.5 h3.6 M109.1,135.7 V141.4 M107.3,135.7 h3.6 M107.3,141.4 h3.6 M116.0,137.0 V140.5 M114.2,137.0 h3.6 M114.2,140.5 h3.6 M169.8,117.0 V119.8 M168.0,117.0 h3.6 M168.0,119.8 h3.6 M181.7,107.4 V112.1 M179.9,107.4 h3.6 M179.9,112.1 h3.6 M201.9,105.0 V107.0 M200.1,105.0 h3.6 M200.1,107.0 h3.6 M225.9,116.0 V120.0 M224.1,116.0 h3.6 M224.1,120.0 h3.6 M251.0,126.5 V133.9 M249.2,126.5 h3.6 M249.2,133.9 h3.6 M266.3,140.7 h3.6 M266.3,148.0 h3.6 M278.7,137.0 V143.9 M276.9,137.0 h3.6 M276.9,143.9 h3.6 M286.5,133.0 V137.0 M284.7,133.0 h3.6 M284.7,137.0 h3.6 M304.3,121.7 V136.6 M302.5,121.7 h3.6 M302.5,136.6 h3.6 M313.4,122.0 V126.5 M311.6,122.0 h3.6 M311.6,126.5 h3.6" stroke="#d41a2a" stroke-width="0.9" fill="none"/>
<path d="M57.9,94.0 V112.8 M268.1,140.7 V148.0" stroke="#d41a2a" stroke-width="0.9" fill="none" stroke-dasharray="3.5,4.5"/>
<path d="M47.40,113.50 L48.90,110.80 L45.90,110.80 z M57.90,105.60 L59.40,108.30 L56.40,108.30 z M57.90,122.50 L59.40,119.80 L56.40,119.80 z M80.60,128.10 L82.10,125.40 L79.10,125.40 z M109.10,139.50 L110.60,136.80 L107.60,136.80 z M116.00,140.20 L117.50,137.50 L114.50,137.50 z M137.10,138.80 L138.60,136.10 L135.60,136.10 z M142.90,134.20 L144.40,136.90 L141.40,136.90 z M152.00,132.40 L153.50,129.70 L150.50,129.70 z M169.80,119.80 L171.30,117.10 L168.30,117.10 z M177.10,113.60 L178.60,116.30 L175.60,116.30 z M181.70,107.20 L183.20,109.90 L180.20,109.90 z M195.40,107.90 L196.90,105.20 L193.90,105.20 z M201.90,107.50 L203.40,104.80 L200.40,104.80 z M225.90,116.40 L227.40,119.10 L224.40,119.10 z M228.10,119.40 L229.60,116.70 L226.60,116.70 z M251.00,131.90 L252.50,129.20 L249.50,129.20 z M268.10,142.60 L269.60,145.30 L266.60,145.30 z M278.70,142.20 L280.20,139.50 L277.20,139.50 z M279.60,141.90 L281.10,144.60 L278.10,144.60 z M286.50,133.20 L288.00,135.90 L285.00,135.90 z M295.60,138.50 L297.10,135.80 L294.10,135.80 z M304.30,130.10 L305.80,127.40 L302.80,127.40 z M304.30,131.60 L305.80,134.30 L302.80,134.30 z M313.40,122.50 L314.90,125.20 L311.90,125.20 z" fill="#d41a2a"/>
<path d="M46.6,198.0 V203.3 M44.8,198.0 h3.6 M44.8,203.3 h3.6 M55.4,178.9 h3.6 M55.4,203.5 h3.6 M57.2,214.7 V218.3 M55.4,214.7 h3.6 M55.4,218.3 h3.6 M79.4,220.5 V224.0 M77.6,220.5 h3.6 M77.6,224.0 h3.6 M106.5,234.0 h3.6 M106.5,240.6 h3.6 M113.5,241.9 V247.1 M111.7,241.9 h3.6 M111.7,247.1 h3.6 M115.3,233.0 V238.0 M113.5,233.0 h3.6 M113.5,238.0 h3.6 M142.9,229.3 V233.3 M141.1,229.3 h3.6 M141.1,233.3 h3.6 M151.9,222.1 V227.1 M150.1,222.1 h3.6 M150.1,227.1 h3.6 M168.0,217.5 V221.0 M166.2,217.5 h3.6 M166.2,221.0 h3.6 M176.0,213.0 V217.5 M174.2,213.0 h3.6 M174.2,217.5 h3.6 M181.4,203.5 V208.0 M179.6,203.5 h3.6 M179.6,208.0 h3.6 M194.9,191.5 V195.5 M193.1,191.5 h3.6 M193.1,195.5 h3.6 M200.4,201.0 V205.0 M198.6,201.0 h3.6 M198.6,205.0 h3.6 M224.2,201.5 h3.6 M224.2,213.7 h3.6 M248.9,225.3 V235.2 M247.1,225.3 h3.6 M247.1,235.2 h3.6 M267.7,240.5 V244.5 M265.9,240.5 h3.6 M265.9,244.5 h3.6 M274.9,233.9 h3.6 M274.9,244.6 h3.6 M303.7,223.8 V228.0 M301.9,223.8 h3.6 M301.9,228.0 h3.6 M311.3,217.2 h3.6 M311.3,224.4 h3.6" stroke="#2424f4" stroke-width="0.9" fill="none"/>
<path d="M57.2,178.9 V203.5 M108.3,234.0 V240.6 M226.0,201.5 V213.7 M276.7,233.9 V244.6 M313.1,217.2 V224.4" stroke="#2424f4" stroke-width="0.9" fill="none" stroke-dasharray="3.5,4.5"/>
<path d="M45.50,199.30 h2.20 v2.20 h-2.20 z M56.10,195.90 h2.20 v2.20 h-2.20 z M57.20,214.90 L58.80,216.50 L57.20,218.10 L55.60,216.50 z M79.40,220.60 L81.00,222.20 L79.40,223.80 L77.80,222.20 z M107.20,234.20 h2.20 v2.20 h-2.20 z M113.50,242.90 L115.10,244.50 L113.50,246.10 L111.90,244.50 z M114.20,234.20 h2.20 v2.20 h-2.20 z M136.70,238.20 L138.30,239.80 L136.70,241.40 L135.10,239.80 z M141.80,230.10 h2.20 v2.20 h-2.20 z M150.80,223.30 h2.20 v2.20 h-2.20 z M168.00,217.50 L169.60,219.10 L168.00,220.70 L166.40,219.10 z M176.00,213.40 L177.60,215.00 L176.00,216.60 L174.40,215.00 z M180.30,204.50 h2.20 v2.20 h-2.20 z M193.80,192.40 h2.20 v2.20 h-2.20 z M200.40,201.30 L202.00,202.90 L200.40,204.50 L198.80,202.90 z M224.90,205.80 h2.20 v2.20 h-2.20 z M227.30,208.00 L228.90,209.60 L227.30,211.20 L225.70,209.60 z M248.90,227.70 L250.50,229.30 L248.90,230.90 L247.30,229.30 z M267.70,240.90 L269.30,242.50 L267.70,244.10 L266.10,242.50 z M266.60,247.60 h2.20 v2.20 h-2.20 z M275.60,236.80 h2.20 v2.20 h-2.20 z M279.40,239.00 L281.00,240.60 L279.40,242.20 L277.80,240.60 z M294.80,241.70 L296.40,243.30 L294.80,244.90 L293.20,243.30 z M302.60,224.70 h2.20 v2.20 h-2.20 z M312.00,218.00 h2.20 v2.20 h-2.20 z" fill="#2424f4"/>
<rect x="45.5" y="1.0" width="302.0" height="256.5" fill="none" stroke="#333" stroke-width="1"/>
<path d="M45.50,257.5 v-4 M45.50,1.0 v4 M60.60,257.5 v-2 M60.60,1.0 v2 M75.70,257.5 v-2 M75.70,1.0 v2 M90.80,257.5 v-2 M90.80,1.0 v2 M105.90,257.5 v-2 M105.90,1.0 v2 M121.00,257.5 v-4 M121.00,1.0 v4 M136.10,257.5 v-2 M136.10,1.0 v2 M151.20,257.5 v-2 M151.20,1.0 v2 M166.30,257.5 v-2 M166.30,1.0 v2 M181.40,257.5 v-2 M181.40,1.0 v2 M196.50,257.5 v-4 M196.50,1.0 v4 M211.60,257.5 v-2 M211.60,1.0 v2 M226.70,257.5 v-2 M226.70,1.0 v2 M241.80,257.5 v-2 M241.80,1.0 v2 M256.90,257.5 v-2 M256.90,1.0 v2 M272.00,257.5 v-4 M272.00,1.0 v4 M287.10,257.5 v-2 M287.10,1.0 v2 M302.20,257.5 v-2 M302.20,1.0 v2 M317.30,257.5 v-2 M317.30,1.0 v2 M332.40,257.5 v-2 M332.40,1.0 v2 M347.50,257.5 v-4 M347.50,1.0 v4 M45.5,1.28 h2 M347.5,1.28 h-2 M45.5,15.50 h4 M347.5,15.50 h-4 M45.5,29.73 h2 M347.5,29.73 h-2 M45.5,43.95 h2 M347.5,43.95 h-2 M45.5,58.18 h2 M347.5,58.18 h-2 M45.5,72.40 h4 M347.5,72.40 h-4 M45.5,86.62 h2 M347.5,86.62 h-2 M45.5,100.85 h2 M347.5,100.85 h-2 M45.5,115.07 h2 M347.5,115.07 h-2 M45.5,129.30 h4 M347.5,129.30 h-4 M45.5,143.52 h2 M347.5,143.52 h-2 M45.5,157.75 h2 M347.5,157.75 h-2 M45.5,171.98 h2 M347.5,171.98 h-2 M45.5,186.20 h4 M347.5,186.20 h-4 M45.5,200.43 h2 M347.5,200.43 h-2 M45.5,214.65 h2 M347.5,214.65 h-2 M45.5,228.88 h2 M347.5,228.88 h-2 M45.5,243.10 h4 M347.5,243.10 h-4 M45.5,257.32 h2 M347.5,257.32 h-2" stroke="#333" stroke-width="1" fill="none"/>
<path d="M312.5,9.70 H316 M320.5,9.70 H325 M329,9.70 H333" stroke="#2424f4" stroke-width="1.0"/>
<path d="M312.2,7.60 v4.2 M336.8,7.60 v4.2" stroke="#2424f4" stroke-width="1.2"/>
<path d="M323.20,8.60 h2.20 v2.20 h-2.20 z" fill="#2424f4"/>
<path d="M312.5,19.45 H336.5" stroke="#2424f4" stroke-width="1.0"/>
<path d="M312.2,17.35 v4.2 M336.8,17.35 v4.2" stroke="#2424f4" stroke-width="1.2"/>
<path d="M324.30,17.85 L325.90,19.45 L324.30,21.05 L322.70,19.45 z" fill="#2424f4"/>
<path d="M312.5,29.20 H316 M320.5,29.20 H325 M329,29.20 H333" stroke="#111111" stroke-width="1.0"/>
<path d="M312.2,27.10 v4.2 M336.8,27.10 v4.2" stroke="#111111" stroke-width="1.2"/>
<path d="M322.95,29.20 a1.35,1.35 0 1,0 2.70,0 a1.35,1.35 0 1,0 -2.70,0 z" fill="#111111"/>
<path d="M312.5,38.95 H336.5" stroke="#111111" stroke-width="1.0"/>
<path d="M312.2,36.85 v4.2 M336.8,36.85 v4.2" stroke="#111111" stroke-width="1.2"/>
<path d="M323.10,38.95 a1.20,1.20 0 1,0 2.40,0 a1.20,1.20 0 1,0 -2.40,0 z" fill="#111111"/>
<path d="M312.5,48.70 H316 M320.5,48.70 H325 M329,48.70 H333" stroke="#d41a2a" stroke-width="1.0"/>
<path d="M312.2,46.60 v4.2 M336.8,46.60 v4.2" stroke="#d41a2a" stroke-width="1.2"/>
<path d="M324.30,47.20 L325.80,49.90 L322.80,49.90 z" fill="#d41a2a"/>
<path d="M312.5,58.45 H336.5" stroke="#d41a2a" stroke-width="1.0"/>
<path d="M312.2,56.35 v4.2 M336.8,56.35 v4.2" stroke="#d41a2a" stroke-width="1.2"/>
<path d="M324.30,59.95 L325.80,57.25 L322.80,57.25 z" fill="#d41a2a"/>
</svg>
<div id="tx">
<div class="yl" style="top:9.5px">16</div><div class="yl" style="top:66.4px">16.4</div><div class="yl" style="top:123.3px">16.8</div><div class="yl" style="top:180.2px">17.2</div><div class="yl" style="top:237.1px">17.6</div><div class="xl" style="left:26.5px">0</div><div class="xl" style="left:102.0px">0.25</div><div class="xl" style="left:177.5px">0.5</div><div class="xl" style="left:253.0px">0.75</div><div class="xl" style="left:328.5px">1</div><div class="lg" style="top:3.5px">Nov. 2014 g'</div><div class="lg" style="top:13.2px">Oct. 2017 g'</div><div class="lg" style="top:23.0px">Nov. 2014 i'</div><div class="lg" style="top:32.8px">Oct. 2017 i'</div><div class="lg" style="top:42.5px">Nov. 2014 r'</div><div class="lg" style="top:52.2px">Oct. 2017 r'</div>
<div class="xt">Orbital Phase</div>
<div class="yt">Magnitude (u'g'r'i'z')</div>
</div>
</body></html>
